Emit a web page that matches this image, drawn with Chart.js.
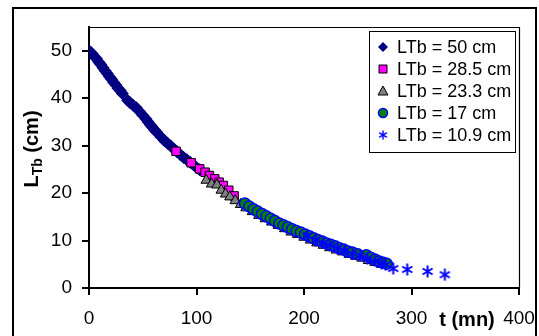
<!DOCTYPE html>
<html>
<head>
<meta charset="utf-8">
<script src="https://cdn.jsdelivr.net/npm/chart.js@4/dist/chart.umd.min.js"></script>
<style>
  html, body { margin: 0; padding: 0; background: #fff; }
  #wrap { width: 539px; height: 336px; position: relative; }
</style>
</head>
<body>
<div id="wrap"><canvas id="ltbChart"></canvas></div>
<script>
'use strict';

// --- data (t in mn, L_Tb in cm) ---
const X_TICKS = [0, 100, 200, 300, 400];
const Y_TICKS = [0, 10, 20, 30, 40, 50];
const LABELS = ['LTb = 50 cm', 'LTb = 28.5 cm', 'LTb = 23.3 cm', 'LTb = 17 cm', 'LTb = 10.9 cm'];

const t50 = [0, 2, 3, 5, 7, 9, 11, 13, 15, 17, 19, 21, 23, 25, 27, 29, 31, 36, 38, 41, 44, 47, 50, 53, 55, 57, 59, 61, 63, 67, 70, 73, 76, 79, 82, 85, 88, 91, 94, 97, 100, 103];
const l50 = [50, 49.6, 49.3, 48.8, 48.3, 47.6, 47.1, 46.4, 45.8, 45.2, 44.5, 44.0, 43.3, 42.8, 42.1, 41.6, 41.0, 39.5, 39.1, 38.5, 38.0, 37.2, 36.4, 35.6, 35.0, 34.4, 33.9, 33.3, 32.8, 31.8, 31.1, 30.5, 29.9, 29.3, 28.7, 28.1, 27.5, 27.0, 26.5, 26.0, 25.4, 24.9];

const t285 = [81, 95, 103, 108, 112, 117, 121, 125, 130, 135];
const l285 = [28.8, 26.4, 25.1, 24.4, 23.7, 23.0, 22.3, 21.6, 20.6, 19.4];

const t233 = [109, 114, 119, 123, 127, 131, 136, 141, 146, 152, 158, 164, 170, 176, 182, 188, 194, 200, 206, 212, 218, 224, 230, 236, 242, 248, 254, 260, 266, 272];
const l233 = [22.7, 21.9, 21.7, 20.6, 19.8, 19.2, 18.4, 17.6, 16.9, 16.1, 15.3, 14.6, 13.9, 13.2, 12.5, 11.8, 11.3, 10.7, 10.1, 9.5, 9.0, 8.5, 8.0, 7.6, 7.1, 6.7, 6.3, 5.8, 5.4, 5.0];

const t17 = [145, 149, 153, 157, 161, 165, 169, 173, 177, 181, 185, 189, 193, 197, 201, 205, 209, 213, 217, 221, 225, 229, 233, 237, 241, 245, 250, 258, 262, 266, 270, 274, 277];
const l17 = [17.8, 17.2, 16.6, 16.1, 15.6, 15.1, 14.6, 14.1, 13.6, 13.2, 12.8, 12.4, 12.0, 11.7, 11.3, 10.9, 10.5, 10.1, 9.8, 9.4, 9.1, 8.8, 8.4, 8.1, 7.7, 7.5, 7.1, 6.9, 6.4, 6.0, 5.6, 5.3, 5.1];

const t109 = [203, 211, 218, 224, 231, 238, 245, 252, 259, 266, 272, 276, 283, 296, 315, 331];
const l109 = [11.0, 10.1, 9.5, 9.0, 8.4, 7.9, 7.2, 6.8, 6.2, 5.7, 5.2, 4.9, 4.1, 3.9, 3.5, 2.8];

const pts = (xs, ys) => xs.map((x, i) => ({ x: x, y: ys[i] }));

// asterisk marker (vertical bar + X), like the spreadsheet "*" marker
const star = document.createElement('canvas');
star.width = 13; star.height = 13;
(function () {
  const c = star.getContext('2d');
  c.strokeStyle = '#0000ff';
  c.lineWidth = 2;
  c.beginPath();
  c.moveTo(6.5, 0.5); c.lineTo(6.5, 12.5);
  c.moveTo(1.5, 3.5); c.lineTo(11.5, 9.5);
  c.moveTo(1.5, 9.5); c.lineTo(11.5, 3.5);
  c.stroke();
})();

const FONT = "'Liberation Sans', Arial, sans-serif";

// frame, axis titles and legend box
const decor = {
  id: 'decor',
  beforeDraw(chart) {
    const ctx = chart.ctx;
    ctx.save();
    ctx.fillStyle = '#fff';
    ctx.fillRect(0, 0, chart.width, chart.height);
    ctx.strokeStyle = '#000';
    ctx.lineWidth = 2;
    ctx.strokeRect(13, 8, 523, 340);
    ctx.restore();
  },
  afterDatasetsDraw(chart) {
    const ctx = chart.ctx;
    const a = chart.chartArea;
    ctx.save();
    ctx.strokeStyle = '#000';
    ctx.lineWidth = 1.2;
    ctx.beginPath();
    ctx.moveTo(a.left, a.top + 0.5);
    ctx.lineTo(a.right + 0.5, a.top + 0.5);
    ctx.lineTo(a.right + 0.5, a.bottom);
    ctx.stroke();

    // y title: L_Tb (cm)
    ctx.translate(31, 149);
    ctx.rotate(-Math.PI / 2);
    ctx.fillStyle = '#000';
    ctx.textBaseline = 'alphabetic';
    const big = 'bold 20px ' + FONT, small = 'bold 14px ' + FONT;
    ctx.font = big; const wL = ctx.measureText('L').width; const wC = ctx.measureText(' (cm)').width;
    ctx.font = small; const wT = ctx.measureText('Tb').width;
    let x0 = -(wL + wT + wC) / 2;
    ctx.font = big; ctx.fillText('L', x0, 7);
    ctx.font = small; ctx.fillText('Tb', x0 + wL, 11);
    ctx.font = big; ctx.fillText(' (cm)', x0 + wL + wT, 7);
    ctx.restore();

    // x title
    ctx.save();
    ctx.font = 'bold 20px ' + FONT;
    ctx.fillStyle = '#000';
    ctx.textAlign = 'center';
    ctx.textBaseline = 'middle';
    ctx.fillText('t (mn)', 467, 320);
    ctx.restore();

    // legend
    ctx.save();
    ctx.fillStyle = '#fff';
    ctx.fillRect(369, 31, 146, 121);
    ctx.strokeStyle = '#000';
    ctx.lineWidth = 1;
    ctx.strokeRect(369.5, 31.5, 146, 121);
    const rows = [47, 69, 91, 113, 135];
    const mx = 383;
    rows.forEach((y, i) => {
      ctx.beginPath();
      if (i === 0) {
        ctx.fillStyle = '#000080';
        ctx.moveTo(mx, y - 5); ctx.lineTo(mx + 5, y); ctx.lineTo(mx, y + 5); ctx.lineTo(mx - 5, y); ctx.closePath();
        ctx.fill();
      } else if (i === 1) {
        ctx.fillStyle = '#ff00ff'; ctx.strokeStyle = '#000'; ctx.lineWidth = 1;
        ctx.rect(mx - 4, y - 4, 8, 8); ctx.fill(); ctx.stroke();
      } else if (i === 2) {
        ctx.fillStyle = '#808080'; ctx.strokeStyle = '#000'; ctx.lineWidth = 1;
        ctx.moveTo(mx, y - 5); ctx.lineTo(mx + 5, y + 4); ctx.lineTo(mx - 5, y + 4); ctx.closePath();
        ctx.fill(); ctx.stroke();
      } else if (i === 3) {
        ctx.fillStyle = '#008000'; ctx.strokeStyle = '#0000ff'; ctx.lineWidth = 1.5;
        ctx.arc(mx, y, 4.5, 0, Math.PI * 2); ctx.fill(); ctx.stroke();
      } else {
        ctx.drawImage(star, mx - 5, y - 5, 10, 10);
      }
      ctx.fillStyle = '#000';
      ctx.font = '18px ' + FONT;
      ctx.textBaseline = 'middle';
      ctx.fillText(LABELS[i], 397, y + 1);
    });
    ctx.restore();
  },
};

const tickFont = { family: FONT, size: 19 };

new Chart(document.getElementById('ltbChart').getContext('2d'), {
  type: 'scatter',
  data: {
    datasets: [
      {
        label: LABELS[0], data: pts(t50, l50), order: 4,
        pointStyle: 'rectRot', pointRadius: 6.5, backgroundColor: '#000080', borderColor: '#000080', borderWidth: 0,
      },
      {
        label: LABELS[1], data: pts(t285, l285), order: 3,
        pointStyle: 'rect', pointRadius: 6, backgroundColor: '#ff00ff', borderColor: '#000', borderWidth: 1,
      },
      {
        label: LABELS[2], data: pts(t233, l233), order: 2,
        pointStyle: 'triangle', pointRadius: 6, backgroundColor: '#808080', borderColor: '#000', borderWidth: 1,
      },
      {
        label: LABELS[3], data: pts(t17, l17), order: 1,
        pointStyle: 'circle', pointRadius: 5.5, backgroundColor: '#008000', borderColor: '#0000ff', borderWidth: 1.5,
      },
      {
        label: LABELS[4], data: pts(t109, l109), order: 0,
        pointStyle: star, pointRadius: 6,
      },
    ],
  },
  options: {
    responsive: true,
    maintainAspectRatio: false,
    animation: false,
    events: [],
    layout: { padding: { top: 27, right: 20, bottom: 0, left: 0 } },
    plugins: { legend: { display: false }, tooltip: { enabled: false } },
    scales: {
      x: {
        type: 'linear', min: 0, max: 400,
        afterFit: s => { s.height = 48; s.paddingLeft = 0; s.paddingRight = 0; },
        afterBuildTicks: s => { s.ticks = X_TICKS.map(v => ({ value: v })); },
        border: { color: '#000', width: 2 },
        grid: { drawOnChartArea: false, color: '#000', lineWidth: 2, tickLength: 7 },
        ticks: { color: '#000', font: tickFont, padding: 12, maxRotation: 0 },
      },
      y: {
        type: 'linear', min: 0, max: 55,
        afterFit: s => { s.width = 89; s.paddingTop = 0; s.paddingBottom = 0; },
        afterBuildTicks: s => { s.ticks = Y_TICKS.map(v => ({ value: v })); },
        border: { color: '#000', width: 2 },
        grid: { drawOnChartArea: false, color: '#000', lineWidth: 2, tickLength: 7 },
        ticks: { color: '#000', font: tickFont, padding: 10 },
      },
    },
  },
  plugins: [decor],
});
</script>
</body>
</html>
